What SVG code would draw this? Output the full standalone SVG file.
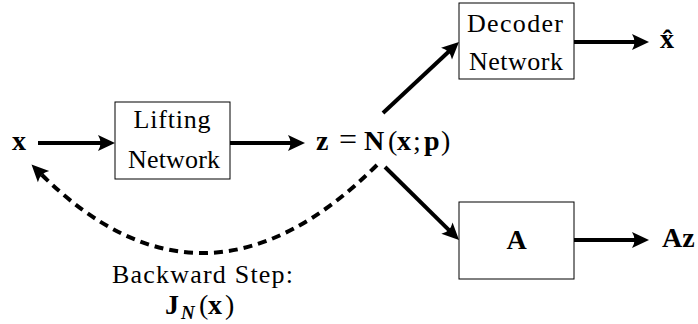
<svg xmlns="http://www.w3.org/2000/svg" width="698" height="324" viewBox="0 0 698 324">
<style>
text{font-family:"Liberation Serif","Times New Roman","DejaVu Serif",serif;font-size:26px;fill:#000}
.c{text-anchor:middle}
.m{font-size:28px}
.b{font-weight:bold}
.box{fill:#fff;stroke:#000;stroke-width:1}
.ar{fill:none;stroke:#000;stroke-width:4}
.dash{fill:none;stroke:#000;stroke-width:4;stroke-dasharray:9 6}
</style>
<defs>
<marker id="ah" viewBox="-15 -15 30 30" markerWidth="30" markerHeight="30" refX="0" refY="0" orient="auto" markerUnits="userSpaceOnUse">
<path d="M-5,-8 L12,0 L-5,8 Q0,0 -5,-8Z" fill="#000"/>
</marker>
</defs>
<g id="connectors">
<line class="ar" x1="38" y1="143" x2="103" y2="143" marker-end="url(#ah)"/>
<line class="ar" x1="230" y1="143" x2="293" y2="143" marker-end="url(#ah)"/>
<line class="ar" x1="383" y1="113" x2="450.2" y2="50.2" marker-end="url(#ah)"/>
<line class="ar" x1="385" y1="167" x2="450.5" y2="231.6" marker-end="url(#ah)"/>
<line class="ar" x1="574" y1="42" x2="637" y2="42" marker-end="url(#ah)"/>
<line class="ar" x1="574" y1="240" x2="637" y2="240" marker-end="url(#ah)"/>
<path class="dash" d="M377,165 Q204,337 40,173" marker-end="url(#ah)"/>
</g>
<g id="input">
<text class="m b" x="12" y="150">x</text>
</g>
<g id="lifting">
<rect class="box" x="115" y="102" width="115" height="77"/>
<text class="c" x="172" y="128" textLength="77" lengthAdjust="spacing">Lifting</text>
<text class="c" x="174" y="168" textLength="92" lengthAdjust="spacing">Network</text>
</g>
<g id="latent">
<text class="m"><tspan class="b" x="316" y="150">z</tspan><tspan x="339" y="150" font-size="32">=</tspan><tspan class="b" x="364" y="150">N</tspan><tspan x="388" y="150">(</tspan><tspan class="b" x="397" y="150">x</tspan><tspan x="413" y="150">;</tspan><tspan class="b" x="424" y="150">p</tspan><tspan x="441" y="150">)</tspan></text>
</g>
<g id="decoder">
<rect class="box" x="459" y="3" width="115" height="76"/>
<text class="c" x="515" y="32" textLength="96" lengthAdjust="spacing">Decoder</text>
<text class="c" x="516" y="70" textLength="94" lengthAdjust="spacing">Network</text>
</g>
<g id="xhat">
<text class="m b" x="660" y="48">x&#770;</text>
</g>
<g id="A">
<rect class="box" x="459" y="202" width="115" height="77"/>
<text class="m b c" x="516.5" y="249">A</text>
</g>
<g id="Az">
<text class="m b" x="662" y="247">Az</text>
</g>
<g id="backward-label">
<text class="c" x="202.5" y="283" textLength="181" lengthAdjust="spacing">Backward Step:</text>
<text class="m"><tspan class="b" x="165" y="314">J</tspan><tspan class="b" font-style="italic" font-size="19" x="181" y="319">N</tspan><tspan x="199" y="314">(</tspan><tspan class="b" x="208" y="314">x</tspan><tspan x="225" y="314">)</tspan></text>
</g>
</svg>
